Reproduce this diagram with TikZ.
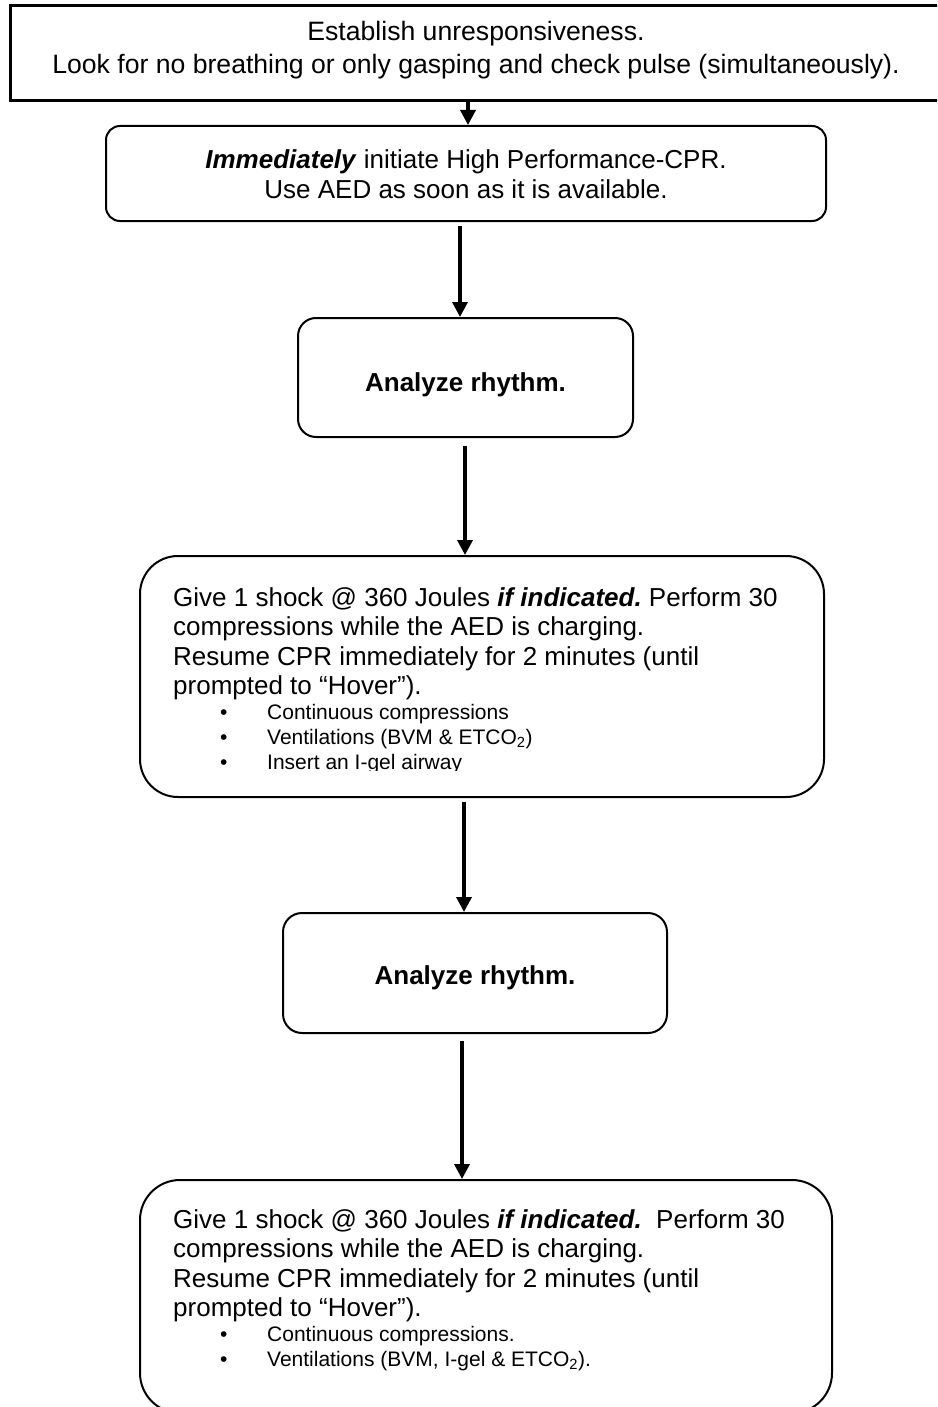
\documentclass[tikz,border=0pt]{standalone}
\usepackage{fontspec}
\setmainfont{Liberation Sans}
\usetikzlibrary{arrows.meta}
\begin{document}
\frenchspacing
\begin{tikzpicture}[x=1pt,y=-1pt,
  box/.style={draw, line width=2pt, rounded corners=#1, inner sep=0pt, minimum width=10pt, minimum height=10pt},
  sqbox/.style={draw, line width=3pt, inner sep=0pt},
  arr/.style={line width=3.5pt, -{Triangle[width=15pt,length=15pt]}},
  txt/.style={inner sep=0pt, anchor=base, font=\fontsize{26}{30}\selectfont},
  txtbig/.style={inner sep=0pt, anchor=base, font=\fontsize{26.6}{30}\selectfont},
  txtl/.style={inner sep=0pt, anchor=base west, font=\fontsize{26}{30}\selectfont},
  bul/.style={inner sep=0pt, anchor=base west, font=\fontsize{21}{25}\selectfont}]
\useasboundingbox (0,0) rectangle (937,1407);
\clip (0,0) rectangle (937,1407);

% boxes
\node[sqbox, minimum width=933pt, minimum height=95pt] (b1) at (476.5,53.5) {};
\node[box=14pt, minimum width=720pt, minimum height=95pt] (b2) at (466,173.5) {};
\node[box=18pt, minimum width=335pt, minimum height=119pt] (b3) at (465.5,377.5) {};
\node[box=38pt, minimum width=684pt, minimum height=241pt] (b4) at (482,676.5) {};
\node[box=19pt, minimum width=384pt, minimum height=120pt] (b5) at (475,973) {};
\node[box=40pt, minimum width=692pt, minimum height=233pt] (b6) at (486,1296.5) {};

% texts
\node[txtbig] (t1a) at (476,41) {Establish unresponsiveness.};
\node[txtbig] (t1b) at (476,74) {Look for no breathing or only gasping and check pulse (simultaneously).};

\node[txt] (t2a) at (466,168) {\textbf{\textit{Immediately}} initiate High Performance-CPR.};
\node[txt] (t2b) at (466,198) {Use AED as soon as it is available.};

\node[txt] (t3) at (465.5,391) {\textbf{Analyze rhythm.}};

\node[txtl] (t4a) at (173,606) {Give 1 shock @ 360 Joules \textbf{\textit{if indicated.}} Perform 30};
\node[txtl] (t4b) at (173,635.5) {compressions while the AED is charging.};
\node[txtl] (t4c) at (173,665) {Resume CPR immediately for 2 minutes (until};
\node[txtl] (t4d) at (173,694.5) {prompted to “Hover”).};
\node[bul] (p4a) at (220,719.5) {•};
\node[bul] (u4a) at (267,719.5) {Continuous compressions};
\node[bul] (p4b) at (220,744.5) {•};
\node[bul] (u4b) at (267,744.5) {Ventilations (BVM \& ETCO\textsubscript{2})};
\begin{scope}
\clip (150,740) rectangle (820,770.5);
\node[bul] (p4c) at (220,769.5) {•};
\node[bul] (u4c) at (267,769.5) {Insert an I-gel airway};
\end{scope}

\node[txt] (t5) at (475,984) {\textbf{Analyze rhythm.}};

\node[txtl] (t6a) at (173,1228) {Give 1 shock @ 360 Joules \textbf{\textit{if indicated.}} \ Perform 30};
\node[txtl] (t6b) at (173,1257.5) {compressions while the AED is charging.};
\node[txtl] (t6c) at (173,1287) {Resume CPR immediately for 2 minutes (until};
\node[txtl] (t6d) at (173,1316.5) {prompted to “Hover”).};
\node[bul] (p6a) at (220,1341.5) {•};
\node[bul] (u6a) at (267,1341.5) {Continuous compressions.};
\node[bul] (p6b) at (220,1366.5) {•};
\node[bul] (u6b) at (267,1366.5) {Ventilations (BVM, I-gel \& ETCO\textsubscript{2}).};

% connectors
\coordinate (x1) at (468,0);
\coordinate (x2) at (460,0);
\coordinate (x3) at (465,0);
\coordinate (x4) at (464,0);
\coordinate (x5) at (462,0);
\draw[arr] (x1 |- b1.south) -- (x1 |- b2.north);
\draw[arr, shorten <=4pt] (x2 |- b2.south) -- (x2 |- b3.north);
\draw[arr, shorten <=8pt] (x3 |- b3.south) -- (x3 |- b4.north);
\draw[arr, shorten <=4pt] (x4 |- b4.south) -- (x4 |- b5.north);
\draw[arr, shorten <=7pt] (x5 |- b5.south) -- (x5 |- b6.north);
\end{tikzpicture}
\end{document}
